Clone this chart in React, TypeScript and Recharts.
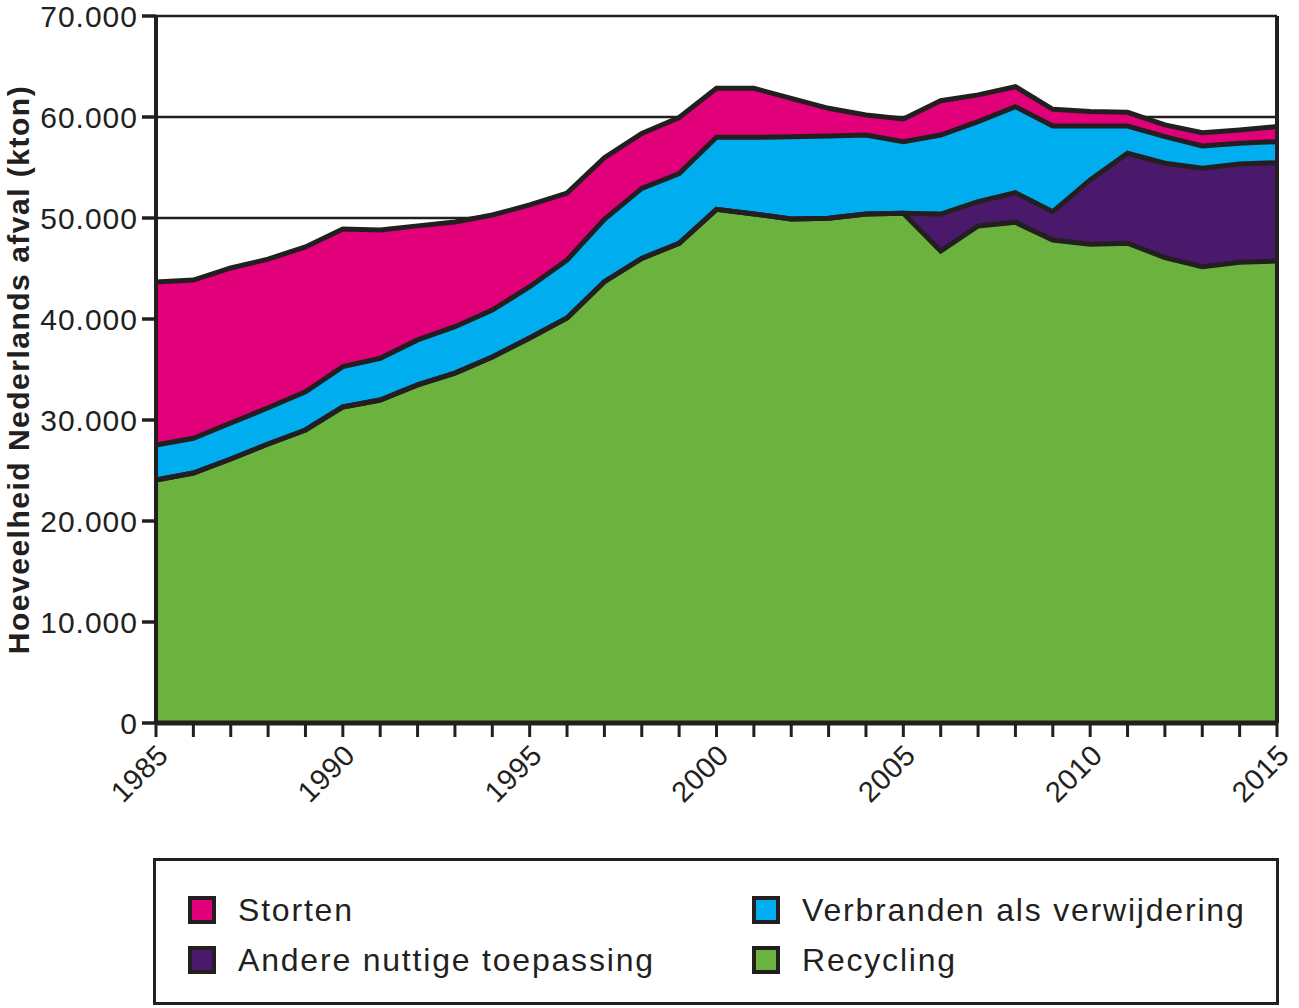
import React from 'react';
import { ComposedChart, Area, Line, XAxis, YAxis, CartesianGrid, ReferenceLine, Legend, Label } from 'recharts';

const years = [1985, 1986, 1987, 1988, 1989, 1990, 1991, 1992, 1993, 1994, 1995, 1996, 1997, 1998, 1999, 2000, 2001, 2002, 2003, 2004, 2005, 2006, 2007, 2008, 2009, 2010, 2011, 2012, 2013, 2014, 2015];
const recycling = [24060, 24750, 26140, 27620, 29010, 31290, 31980, 33470, 34650, 36240, 38120, 40100, 43690, 46000, 47500, 50860, 50400, 49900, 49970, 50400, 50470, 46730, 49210, 49570, 47820, 47400, 47500, 46080, 45180, 45610, 45740];
const andere = [0, 0, 0, 0, 0, 0, 0, 0, 0, 0, 0, 0, 0, 0, 0, 0, 0, 0, 0, 0, 0, 3660, 2410, 2930, 2810, 6370, 8910, 9340, 9740, 9740, 9740];
const verbranden = [3470, 3440, 3560, 3590, 3790, 3990, 4130, 4460, 4590, 4650, 5080, 5740, 6180, 6940, 6900, 7130, 7590, 8150, 8150, 7820, 7090, 7820, 7930, 8520, 8480, 5350, 2700, 2640, 2210, 2050, 2080];
const storten = [16140, 15670, 15350, 14720, 14330, 13630, 12700, 11290, 10370, 9410, 8090, 6630, 6110, 5440, 5550, 4850, 4850, 3800, 2740, 1980, 2250, 3400, 2640, 1980, 1650, 1420, 1350, 1160, 1320, 1320, 1490];

const yTicks = [0, 10000, 20000, 30000, 40000, 50000, 60000, 70000];
const xLabelYears = [1985, 1990, 1995, 2000, 2005, 2010, 2015];

const COLORS = {
  storten: '#e2007a',
  verbranden: '#00aeef',
  andere: '#4b196b',
  recycling: '#6bb23f',
};
const INK = '#231f20';
const FONT = '"Liberation Sans", Arial, sans-serif';

const legendItems = [
  { name: 'Storten', color: COLORS.storten },
  { name: 'Verbranden als verwijdering', color: COLORS.verbranden },
  { name: 'Andere nuttige toepassing', color: COLORS.andere },
  { name: 'Recycling', color: COLORS.recycling },
];

const data = years.map((year, i) => {
  const c1 = recycling[i];
  const c2 = c1 + andere[i];
  const c3 = c2 + verbranden[i];
  const c4 = c3 + storten[i];
  return {
    year,
    recycling: recycling[i],
    andere: andere[i],
    verbranden: verbranden[i],
    storten: storten[i],
    top1: c1,
    top2: c2,
    top3: c3,
    top4: c4,
  };
});

const fmt = (v: number) => String(v).replace(/\B(?=(\d{3})+(?!\d))/g, '.');

const XTick = (props: any) => {
  const { x, y, payload } = props;
  if (!xLabelYears.includes(payload.value)) return null;
  const ax = x + 14;
  const ay = y + 16;
  return (
    <text
      x={ax}
      y={ay}
      transform={`rotate(-45, ${ax}, ${ay})`}
      textAnchor="end"
      fontSize={29}
      letterSpacing={0.5}
      fontFamily={FONT}
      fill={INK}
    >
      {payload.value}
    </text>
  );
};

const LegendContent = () => (
  <div
    style={{
      width: '100%',
      height: '100%',
      boxSizing: 'border-box',
      border: `3px solid ${INK}`,
      position: 'relative',
      fontFamily: FONT,
      color: INK,
    }}
  >
    {legendItems.map((item, i) => {
      const col = i % 2;
      const row = Math.floor(i / 2);
      return (
        <div
          key={item.name}
          style={{
            position: 'absolute',
            left: col === 0 ? 32 : 596,
            top: 34 + row * 50,
            display: 'flex',
            alignItems: 'center',
            height: 30,
          }}
        >
          <div
            style={{
              width: 28,
              height: 28,
              boxSizing: 'border-box',
              background: item.color,
              border: `4px solid ${INK}`,
              marginRight: 22,
            }}
          />
          <span style={{ fontSize: 32, letterSpacing: 1.8, whiteSpace: 'nowrap', lineHeight: '30px' }}>{item.name}</span>
        </div>
      );
    })}
  </div>
);

export default function App() {
  return (
    <div style={{ position: 'absolute', left: 0, top: 0, width: 1299, height: 1008, background: '#fff' }}>
      <ComposedChart
        width={1299}
        height={1008}
        data={data}
        margin={{ top: 16, right: 22, bottom: 185, left: 56 }}
      >
        <CartesianGrid horizontal vertical={false} stroke={INK} strokeWidth={2.5} />
        <XAxis
          dataKey="year"
          type="number"
          domain={[1985, 2015]}
          ticks={years}
          interval={0}
          height={100}
          tickSize={14}
          tickMargin={4}
          axisLine={{ stroke: INK, strokeWidth: 5 }}
          tickLine={{ stroke: INK, strokeWidth: 3 }}
          tick={<XTick />}
        />
        <YAxis
          type="number"
          domain={[0, 70000]}
          ticks={yTicks}
          interval={0}
          width={100}
          tickSize={14}
          tickMargin={4}
          tickFormatter={fmt}
          axisLine={{ stroke: INK, strokeWidth: 4 }}
          tickLine={{ stroke: INK, strokeWidth: 3.5 }}
          tick={{ fill: INK, fontSize: 30, fontFamily: FONT, letterSpacing: 1 }}
        >
          <Label
            content={(p: any) => {
              const vb = p.viewBox || {};
              const cx = (vb.x ?? 56) - 38;
              const cy = (vb.y ?? 16) + (vb.height ?? 707) / 2;
              return (
                <text
                  x={cx}
                  y={cy}
                  transform={`rotate(-90, ${cx}, ${cy})`}
                  textAnchor="middle"
                  dominantBaseline="central"
                  fontSize={30}
                  fontWeight="bold"
                  letterSpacing={1.5}
                  fontFamily={FONT}
                  fill={INK}
                >
                  Hoeveelheid Nederlands afval (kton)
                </text>
              );
            }}
          />
        </YAxis>
        <Area dataKey="recycling" stackId="a" type="linear" fill={COLORS.recycling} fillOpacity={1} stroke="none" isAnimationActive={false} />
        <Area dataKey="andere" stackId="a" type="linear" fill={COLORS.andere} fillOpacity={1} stroke="none" isAnimationActive={false} />
        <Area dataKey="verbranden" stackId="a" type="linear" fill={COLORS.verbranden} fillOpacity={1} stroke="none" isAnimationActive={false} />
        <Area dataKey="storten" stackId="a" type="linear" fill={COLORS.storten} fillOpacity={1} stroke="none" isAnimationActive={false} />
        <Line dataKey="top1" type="linear" stroke={INK} strokeWidth={5} dot={false} activeDot={false} legendType="none" isAnimationActive={false} />
        <Line dataKey="top2" type="linear" stroke={INK} strokeWidth={5} dot={false} activeDot={false} legendType="none" isAnimationActive={false} />
        <Line dataKey="top3" type="linear" stroke={INK} strokeWidth={5} dot={false} activeDot={false} legendType="none" isAnimationActive={false} />
        <Line dataKey="top4" type="linear" stroke={INK} strokeWidth={5} dot={false} activeDot={false} legendType="none" isAnimationActive={false} />
        <ReferenceLine x={2015} stroke={INK} strokeWidth={4} ifOverflow="visible" />
        <Legend
          layout="horizontal"
          verticalAlign="middle"
          align="center"
          content={<LegendContent />}
          wrapperStyle={{ left: 153, top: 858, width: 1126, height: 147 }}
        />
      </ComposedChart>
    </div>
  );
}
